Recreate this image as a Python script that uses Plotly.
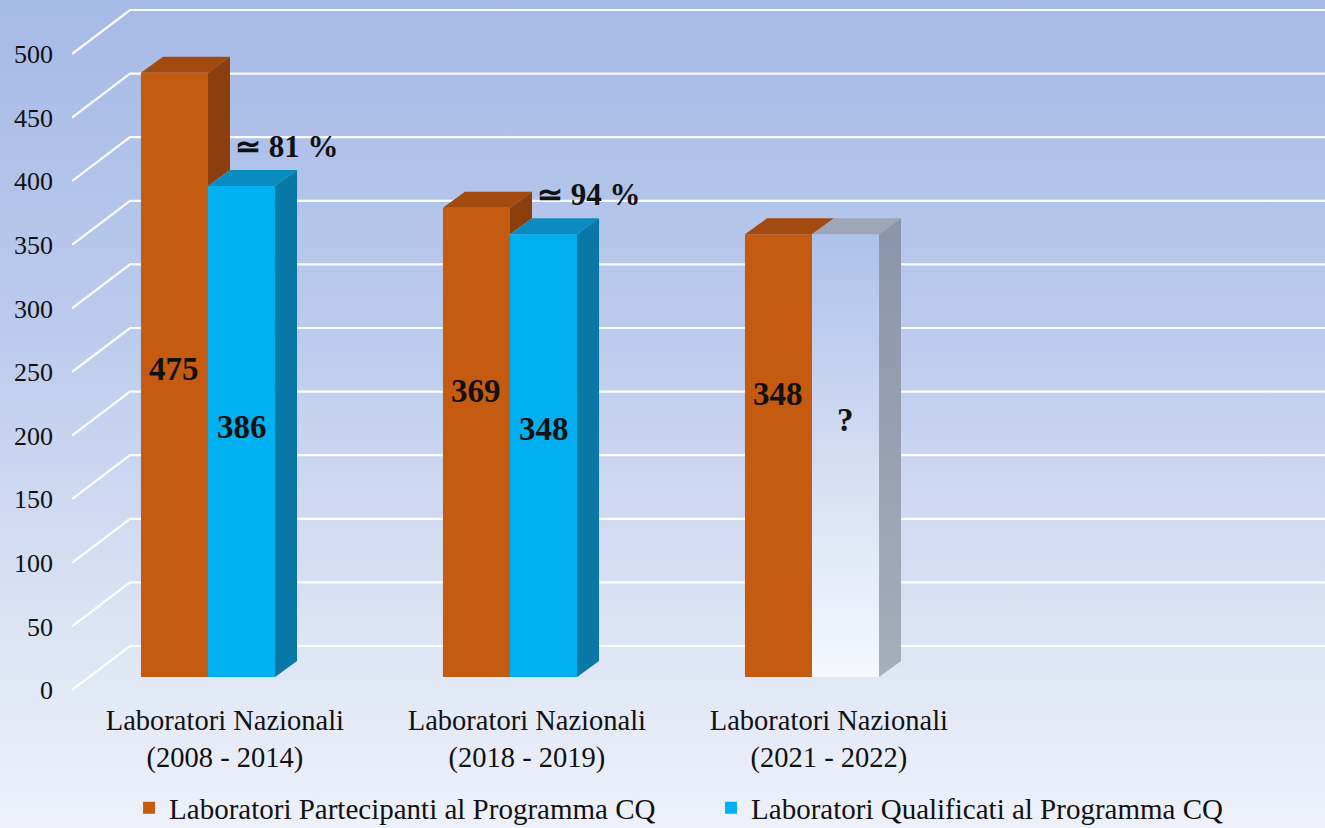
import base64
import plotly.graph_objects as go

# ---------------- data ----------------
categories = [
    "Laboratori Nazionali<br>(2008 - 2014)",
    "Laboratori Nazionali<br>(2018 - 2019)",
    "Laboratori Nazionali<br>(2021 - 2022)",
]
participants = [475, 369, 348]          # Laboratori Partecipanti
qualified = [386, 348, None]            # Laboratori Qualificati (last one unknown)
unknown_text = "?"
series_names = [
    "Laboratori Partecipanti al Programma CQ",
    "Laboratori Qualificati al Programma CQ",
]
y_ticks = [0, 50, 100, 150, 200, 250, 300, 350, 400, 450, 500]

# ---------------- style / geometry ----------------
FONT = "Liberation Serif"
W, H = 1325, 828
ML, MR, MT, MB = 72, 0, 0, 128
PX_PER_X = 302.0           # pixels per category unit
PX_PER_Y = 1.272           # pixels per value unit
X_LEFT = (ML - 208) / PX_PER_X
X_RIGHT = X_LEFT + (W - ML - MR) / PX_PER_X
Y_BOTTOM = -(700 - 677) / PX_PER_Y
Y_TOP = Y_BOTTOM + (H - MT - MB) / PX_PER_Y

BW = 0.222                 # bar width (category units)
DX = 22 / PX_PER_X         # bar depth, horizontal
DY = 16 / PX_PER_Y         # bar depth, vertical
FLOOR_DY = -13 / PX_PER_Y  # front edge of floor relative to bar front
WALL_DY = 31 / PX_PER_Y    # back wall relative to bar front
WALL_X = (130 - 208) / PX_PER_X

ORANGE = dict(front="#c55a11", top="#a24a0f", side="#8c3f0d")
BLUE = dict(front="#00b0f0", top="#0a8cc0", side="#0a78a6")
label_pos_orange = [0.51, 0.61, 0.64]
label_pos_second = [0.51, 0.56, 0.58]

fig = go.Figure()

# background gradient
svg = (
    f'<svg xmlns="http://www.w3.org/2000/svg" width="{W}" height="{H}" '
    f'viewBox="0 0 {W} {H}" preserveAspectRatio="none">'
    '<defs><linearGradient id="g" x1="0" y1="0" x2="0" y2="1">'
    '<stop offset="0" stop-color="#a6bae6"/>'
    '<stop offset="0.4" stop-color="#bccbed"/>'
    '<stop offset="0.75" stop-color="#dbe3f4"/>'
    '<stop offset="1" stop-color="#eef1f9"/>'
    '</linearGradient></defs>'
    f'<rect x="0" y="0" width="{W}" height="{H}" fill="url(#g)"/></svg>'
)
src = "data:image/svg+xml;base64," + base64.b64encode(svg.encode()).decode()
pw, ph = W - ML - MR, H - MT - MB
fig.add_layout_image(
    source=src, xref="paper", yref="paper",
    x=-ML / pw, y=1 + MT / ph, sizex=W / pw, sizey=H / ph,
    xanchor="left", yanchor="top", sizing="stretch", layer="below",
)

# 3D gridlines (floor front edge -> back wall -> right)
for v in y_ticks:
    fig.add_shape(
        type="path", layer="below", xref="x", yref="y",
        path=f"M{X_LEFT},{v + FLOOR_DY} L{WALL_X},{v + WALL_DY} L{X_RIGHT},{v + WALL_DY}",
        line=dict(color="rgba(255,255,255,0.95)", width=2.2),
    )

xs = list(range(len(categories)))

# front faces as bars
fig.add_trace(go.Bar(
    x=xs, y=participants, width=BW, offset=-BW, name=series_names[0],
    marker=dict(color=ORANGE["front"], line=dict(width=0)), hoverinfo="y",
))
fig.add_trace(go.Bar(
    x=xs, y=qualified, width=BW, offset=0, name=series_names[1],
    marker=dict(color=BLUE["front"], line=dict(width=0)), hoverinfo="y",
))


def poly(xp, yp, color=None, gradient=None):
    kw = dict(x=xp, y=yp, mode="lines", fill="toself", line=dict(width=0),
              showlegend=False, hoverinfo="skip")
    if gradient is not None:
        kw["fillgradient"] = dict(type="vertical", colorscale=gradient)
        kw["fillcolor"] = gradient[0][1]
    else:
        kw["fillcolor"] = color
    fig.add_trace(go.Scatter(**kw))


for i, (p, q) in enumerate(zip(participants, qualified)):
    # orange bar: top face + visible part of the side face
    xl, xr = i - BW, i
    poly([xl, xl + DX, xr + DX, xr, xl], [p, p + DY, p + DY, p, p], ORANGE["top"])
    second_h = q if q is not None else participants[i]
    poly([xr, xr + DX, xr + DX, xr, xr],
         [second_h, second_h + DY, p + DY, p, second_h], ORANGE["side"])
    # second bar
    xl2, xr2 = i, i + BW
    if q is not None:
        poly([xl2, xl2 + DX, xr2 + DX, xr2, xl2], [q, q + DY, q + DY, q, q], BLUE["top"])
        poly([xr2, xr2 + DX, xr2 + DX, xr2, xr2], [0, DY, q + DY, q, 0], BLUE["side"])
    else:
        h = second_h
        poly([xl2, xr2, xr2, xl2, xl2], [0, 0, h, h, 0],
             gradient=[[0, "#f5f8fd"], [0.5, "#d3ddf2"], [1, "#adc1ea"]])
        poly([xl2, xl2 + DX, xr2 + DX, xr2, xl2], [h, h + DY, h + DY, h, h], "#9ca6b8")
        poly([xr2, xr2 + DX, xr2 + DX, xr2, xr2], [0, DY, h + DY, h, 0],
             gradient=[[0, "#a6adbb"], [1, "#8995aa"]])

annotations = []
lab_font = dict(family=FONT, size=33, color="#111111")
pct_font = dict(family=FONT, size=31, color="#111111")
for i, (p, q) in enumerate(zip(participants, qualified)):
    annotations.append(dict(x=i - BW / 2, y=p * label_pos_orange[i], text=f"<b>{p}</b>",
                            showarrow=False, font=lab_font, xref="x", yref="y"))
    h = q if q is not None else participants[i]
    txt = f"<b>{q}</b>" if q is not None else f"<b>{unknown_text}</b>"
    annotations.append(dict(x=i + BW / 2, y=h * label_pos_second[i], text=txt,
                            showarrow=False, font=lab_font, xref="x", yref="y"))
    if q is not None:
        pct = round(100 * q / p)
        annotations.append(dict(x=i + 0.263, y=q + 31, text=f"<b>≃ {pct} %</b>",
                                showarrow=False, font=pct_font, xref="x", yref="y"))

fig.update_layout(
    width=W, height=H,
    margin=dict(l=ML, r=MR, t=MT, b=MB),
    paper_bgcolor="rgba(0,0,0,0)", plot_bgcolor="rgba(0,0,0,0)",
    barmode="overlay",
    showlegend=True,
    legend=dict(
        orientation="h", xref="container", yref="container",
        x=0.0974, y=1 - 808 / H, xanchor="left", yanchor="middle",
        font=dict(family=FONT, size=29, color="#111111"),
        entrywidth=537, entrywidthmode="pixels",
        bgcolor="rgba(0,0,0,0)", itemclick=False,
    ),
    annotations=annotations,
    font=dict(family=FONT, color="#111111"),
)
fig.update_xaxes(
    range=[X_LEFT, X_RIGHT], tickvals=[i + 0.056 for i in xs], ticktext=categories,
    showgrid=False, zeroline=False, showline=False, ticks="",
    tickfont=dict(family=FONT, size=28.5, color="#111111"), fixedrange=True,
)
fig.update_yaxes(
    range=[Y_BOTTOM, Y_TOP], tickvals=y_ticks, ticktext=[str(t) for t in y_ticks],
    showgrid=False, zeroline=False, showline=False, ticks="",
    ticklabelshift=13, ticklabelstandoff=18,
    tickfont=dict(family=FONT, size=26, color="#111111"), fixedrange=True,
)

fig.write_html(
    "out.html",
    config={"displayModeBar": False},
    post_script="document.body.style.margin='0';document.body.style.overflow='hidden';",
)
